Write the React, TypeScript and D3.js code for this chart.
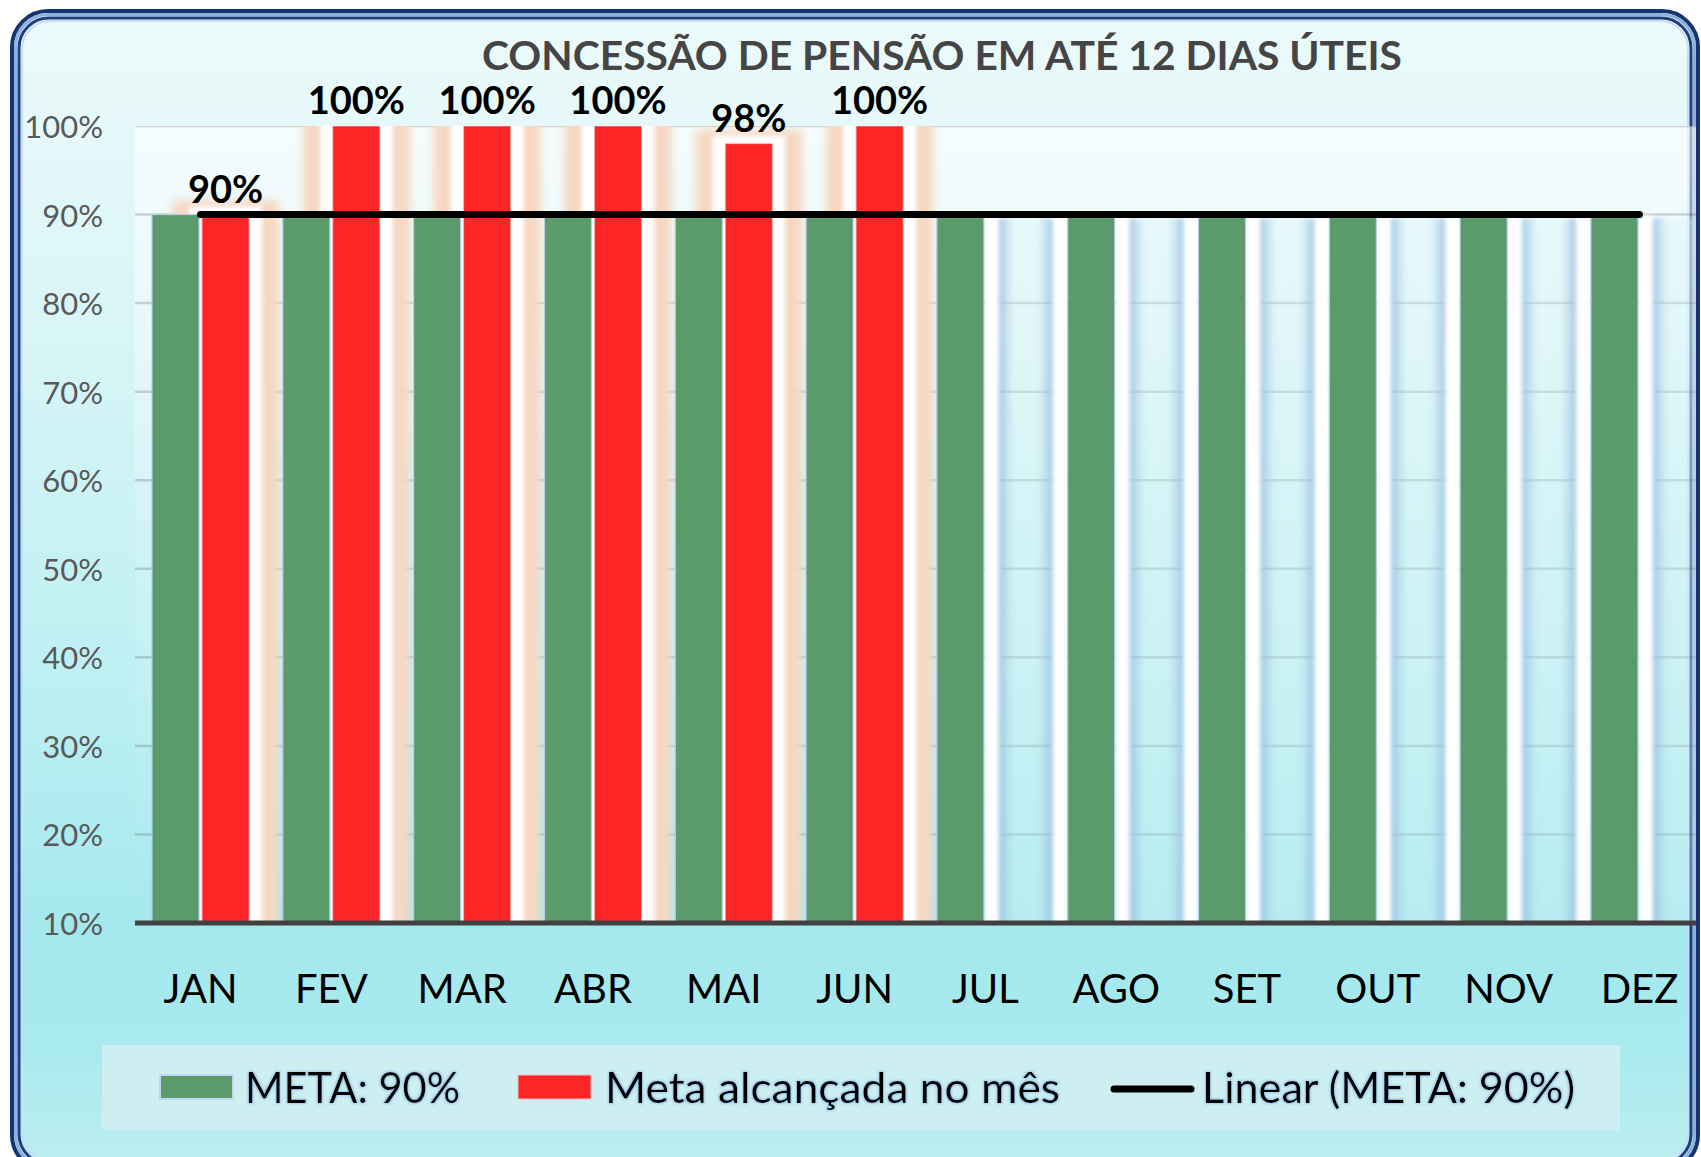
import * as d3 from 'd3';

const months = ['JAN', 'FEV', 'MAR', 'ABR', 'MAI', 'JUN', 'JUL', 'AGO', 'SET', 'OUT', 'NOV', 'DEZ'];
const metaValues = [0.9, 0.9, 0.9, 0.9, 0.9, 0.9, 0.9, 0.9, 0.9, 0.9, 0.9, 0.9];
const reachedValues: (number | null)[] = [0.9, 1.0, 1.0, 1.0, 0.98, 1.0, null, null, null, null, null, null];
const yTicks = [0.1, 0.2, 0.3, 0.4, 0.5, 0.6, 0.7, 0.8, 0.9, 1.0];
const title = 'CONCESSÃO DE PENSÃO EM ATÉ 12 DIAS ÚTEIS';
const legendLabels = ['META: 90%', 'Meta alcançada no mês', 'Linear (META: 90%)'];

const W = 1701;
const H = 1157;
const plot = { left: 135, right: 1705, top: 126, bottom: 923, clipRight: 1696 };
const FONT = 'Lato, "Open Sans", sans-serif';
const GREEN = '#5b9a6b';
const RED = '#fe2526';

export default function App() {
  const x = d3.scaleBand().domain(months).range([plot.left, plot.right]).paddingInner(0.258).paddingOuter(0.13);
  const xs = d3.scaleBand().domain(['meta', 'reached']).range([0, x.bandwidth()]).paddingInner(0.06);
  const y = d3.scaleLinear().domain([0.1, 1]).range([plot.bottom, plot.top]);
  const pct = d3.format('.0%');
  const bw = xs.bandwidth();

  // linear trend of the META series
  const idx = metaValues.map((_, i) => i);
  const mx = d3.mean(idx) as number;
  const my = d3.mean(metaValues) as number;
  const slope =
    d3.sum(idx, i => (i - mx) * (metaValues[i] - my)) / d3.sum(idx, i => (i - mx) * (i - mx));
  const trendAt = (i: number) => my + slope * (i - mx);
  const center = (m: string) => (x(m) as number) + x.bandwidth() / 2;
  const trend = d3
    .line<number>()
    .x(i => center(months[i]))
    .y(i => y(trendAt(i)));

  return (
    <svg width={W} height={H} style={{ position: 'absolute', left: 0, top: 0 }} fontFamily={FONT}>
      <defs>
        <linearGradient id="bg" x1="0" y1="0" x2="0" y2="1">
          <stop offset="0" stopColor="#edfafb" />
          <stop offset="0.27" stopColor="#d9f5f7" />
          <stop offset="0.56" stopColor="#bff0f3" />
          <stop offset="0.8" stopColor="#a3e8ed" />
          <stop offset="0.9" stopColor="#a9eaee" />
          <stop offset="1" stopColor="#bdeef1" />
        </linearGradient>
        <linearGradient id="plotbg" x1="0" y1="0" x2="0" y2="1">
          <stop offset="0" stopColor="#ffffff" stopOpacity="0.6" />
          <stop offset="0.5" stopColor="#ffffff" stopOpacity="0.15" />
          <stop offset="1" stopColor="#ffffff" stopOpacity="0" />
        </linearGradient>
        <linearGradient id="ghostCenter" x1="0" y1="0" x2="1" y2="0">
          <stop offset="0" stopColor="#8fb8de" stopOpacity="0.8" />
          <stop offset="0.3" stopColor="#d6f3f6" stopOpacity="0.35" />
          <stop offset="0.7" stopColor="#d6f3f6" stopOpacity="0.35" />
          <stop offset="1" stopColor="#8fb8de" stopOpacity="0.8" />
        </linearGradient>
        <filter id="blur4" x="-60%" y="-10%" width="220%" height="120%">
          <feGaussianBlur stdDeviation="4" />
        </filter>
        <filter id="blur2" x="-60%" y="-10%" width="220%" height="120%">
          <feGaussianBlur stdDeviation="2" />
        </filter>
        <filter id="textGlow" x="-5%" y="-20%" width="110%" height="140%">
          <feMorphology in="SourceAlpha" operator="dilate" radius="1.2" result="d" />
          <feGaussianBlur in="d" stdDeviation="1.2" result="b" />
          <feFlood floodColor="#7fb4e0" floodOpacity="0.6" />
          <feComposite in2="b" operator="in" result="g" />
          <feMerge>
            <feMergeNode in="g" />
            <feMergeNode in="SourceGraphic" />
          </feMerge>
        </filter>
        <clipPath id="plotClip">
          <rect x={plot.left} y={plot.top} width={plot.clipRight - plot.left} height={plot.bottom - plot.top} />
        </clipPath>
      </defs>

      {/* frame */}
      <rect x={12} y={11} width={1686} height={1160} rx={36} fill="url(#bg)" stroke="#16356f" strokeWidth={4} />
      <rect x={15.5} y={14.5} width={1679} height={1153} rx={33} fill="none" stroke="#8fb0dc" strokeWidth={3} />
      <rect x={19} y={18} width={1672} height={1146} rx={30} fill="none" stroke="#1d3f80" strokeWidth={3} />
      <rect x={22} y={21} width={1666} height={1140} rx={28} fill="none" stroke="#c9dcf2" strokeWidth={2} />

      <text x={942} y={70} textAnchor="middle" fontSize={40} fontWeight={700} fill="#454545" textLength={920} lengthAdjust="spacingAndGlyphs">
        {title}
      </text>

      {/* plot area */}
      <g clipPath="url(#plotClip)">
        <rect x={plot.left} y={plot.top} width={plot.clipRight - plot.left} height={plot.bottom - plot.top} fill="url(#plotbg)" />
        {yTicks.slice(1).map(t => (
          <line key={t} x1={plot.left} x2={plot.clipRight} y1={y(t)} y2={y(t)} stroke="#000" strokeOpacity={0.16} strokeWidth={2.5} />
        ))}

        {/* glow around the second series */}
        {months.map((m, i) => {
          const v = reachedValues[i];
          const rx0 = (x(m) as number) + (xs('reached') as number);
          if (v != null) {
            const top = y(v);
            return (
              <g key={m}>
                <rect x={rx0 - 30} y={top - 14} width={bw + 60} height={plot.bottom - top + 20} fill="#f6d8c2" filter="url(#blur4)" />
                <rect x={rx0 - 13} y={top - 8} width={bw + 26} height={plot.bottom - top + 14} fill="#ffffff" filter="url(#blur2)" />
              </g>
            );
          }
          const g0 = (x(m) as number) + (xs('meta') as number) + bw;
          const g1 = g0 + x.step() - bw;
          const top = y(metaValues[i]);
          return (
            <g key={m}>
              <rect x={g0} y={top + 2} width={17} height={plot.bottom - top} fill="#ffffff" filter="url(#blur2)" />
              <rect x={g1 - 17} y={top + 2} width={17} height={plot.bottom - top} fill="#ffffff" filter="url(#blur2)" />
              <rect x={g0 + 15} y={top + 4} width={g1 - g0 - 30} height={plot.bottom - top} fill="url(#ghostCenter)" filter="url(#blur2)" />
            </g>
          );
        })}

        {/* META bars */}
        {months.map((m, i) => (
          <rect
            key={m}
            x={(x(m) as number) + (xs('meta') as number)}
            y={y(metaValues[i])}
            width={bw}
            height={plot.bottom - y(metaValues[i])}
            fill={GREEN}
            stroke="#b7cde8"
            strokeWidth={1.2}
          />
        ))}

        {/* Meta alcançada bars */}
        {months.map((m, i) => {
          const v = reachedValues[i];
          if (v == null) return null;
          return (
            <rect
              key={m}
              x={(x(m) as number) + (xs('reached') as number)}
              y={y(v)}
              width={bw}
              height={plot.bottom - y(v)}
              fill={RED}
              stroke="#f5b0b0"
              strokeWidth={0.8}
            />
          );
        })}
      </g>

      {/* axis line */}
      <line x1={plot.left} x2={plot.clipRight} y1={plot.bottom} y2={plot.bottom} stroke="#404040" strokeWidth={5} />

      {/* trend line */}
      <path d={trend(idx) as string} fill="none" stroke="#000" strokeWidth={7} strokeLinecap="round" />

      {/* data labels */}
      {months.map((m, i) => {
        const v = reachedValues[i];
        if (v == null) return null;
        return (
          <text
            key={m}
            x={(x(m) as number) + (xs('reached') as number) + bw / 2}
            y={y(v) - 12}
            textAnchor="middle"
            fontSize={38}
            fontWeight={700}
            fill="#000"
          >
            {pct(v)}
          </text>
        );
      })}

      {/* y tick labels */}
      {yTicks.map(t => (
        <text key={t} x={103} y={y(t)} textAnchor="end" dominantBaseline="central" fontSize={31} fill="#595959">
          {pct(t)}
        </text>
      ))}

      {/* month labels */}
      {months.map(m => (
        <text key={m} x={center(m)} y={1003} textAnchor="middle" fontSize={40} fill="#000">
          {m}
        </text>
      ))}

      {/* legend */}
      <g>
        <rect x={102} y={1045} width={1518} height={85} fill="#cdeff1" />
        <rect x={160} y={1075} width={73} height={24} fill={GREEN} stroke="#c4d6f0" strokeWidth={2} />
        <text x={245} y={1103} fontSize={43} fill="#000" textLength={215} lengthAdjust="spacingAndGlyphs" filter="url(#textGlow)">
          {legendLabels[0]}
        </text>
        <rect x={518} y={1075} width={73} height={24} fill={RED} stroke="#f6b9b9" strokeWidth={1} />
        <text x={605} y={1103} fontSize={43} fill="#000" textLength={455} lengthAdjust="spacingAndGlyphs" filter="url(#textGlow)">
          {legendLabels[1]}
        </text>
        <line x1={1114} x2={1191} y1={1089} y2={1089} stroke="#000" strokeWidth={7} strokeLinecap="round" />
        <text x={1202} y={1103} fontSize={43} fill="#000" textLength={373} lengthAdjust="spacingAndGlyphs" filter="url(#textGlow)">
          {legendLabels[2]}
        </text>
      </g>
    </svg>
  );
}
